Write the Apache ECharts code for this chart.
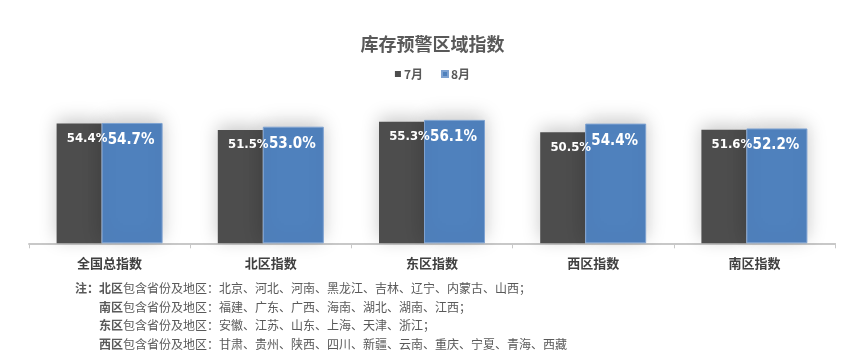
<!DOCTYPE html>
<html><head><meta charset="utf-8">
<script src="https://cdn.jsdelivr.net/npm/echarts@6/dist/echarts.min.js"></script>
<style>html,body{margin:0;padding:0;background:#fff}#c{width:865px;height:361px}</style>
</head><body><div id="c"></div>
<script>
var categories = ['全国总指数', '北区指数', '东区指数', '西区指数', '南区指数'];
var july = [54.4, 51.5, 55.3, 50.5, 51.6];
var august = [54.7, 53.0, 56.1, 54.4, 52.2];
var seriesNames = ['7月', '8月'];
var title = '库存预警区域指数';
var noteRegions = ['北区', '南区', '东区', '西区'];
var noteLists = [
  '北京、河北、河南、黑龙江、吉林、辽宁、内蒙古、山西；',
  '福建、广东、广西、海南、湖北、湖南、江西；',
  '安徽、江苏、山东、上海、天津、浙江；',
  '甘肃、贵州、陕西、四川、新疆、云南、重庆、宁夏、青海、西藏'
];

var CJK = "'Noto Sans CJK SC', 'Microsoft YaHei', sans-serif";
var NARROW = "'DejaVu Sans Condensed', sans-serif";
var chart = echarts.init(document.getElementById('c'));

var noteY = [290, 309, 327, 346];
var graphics = noteRegions.map(function (r, i) {
  var txt = (i === 0 ? '{b|注：}' : '') + '{b|' + r + '}{n|包含省份及地区：' + noteLists[i] + '}';
  return {
    type: 'text', left: i === 0 ? 75 : 99, top: noteY[i] - 8,
    style: {
      text: txt,
      rich: {
        b: {fontFamily: CJK, fontSize: 12, fontWeight: 'bold', fill: '#595959'},
        n: {fontFamily: CJK, fontSize: 12, fill: '#595959'}
      }
    }
  };
});

var shadow = {shadowBlur: 18, shadowColor: 'rgba(0,0,0,0.22)', shadowOffsetY: -4};

chart.setOption({
  animation: false,
  title: {text: title, left: 'center', top: 30,
    textStyle: {fontFamily: CJK, fontSize: 18, fontWeight: 'bold', color: '#595959'}},
  legend: {data: seriesNames, top: 63, left: 'center', itemWidth: 6, itemHeight: 6, itemGap: 18,
    icon: 'rect',
    textStyle: {fontFamily: CJK, fontSize: 12, fontWeight: 'bold', color: '#595959', padding: [0, 0, 0, -2]}},
  grid: {left: 29, right: 30, top: 23.3, bottom: 117.7, containLabel: false},
  xAxis: {type: 'category', data: categories,
    axisLine: {lineStyle: {color: '#c8c8c8', width: 2}},
    axisTick: {show: true, length: 5, lineStyle: {color: '#c8c8c8', width: 1}},
    axisLabel: {fontFamily: CJK, fontSize: 13, fontWeight: 'bold', color: '#404040', margin: 13}},
  yAxis: {type: 'value', min: 0, max: 100, show: false, splitLine: {show: false}},
  graphic: graphics,
  series: [
    {name: seriesNames[0], type: 'bar', data: july, barWidth: 45, barGap: '0%',
      itemStyle: Object.assign({color: '#4d4d4d'}, shadow),
      label: {show: true, position: 'insideTop', distance: 8.5, offset: [8, 0],
        formatter: function (p) { return p.value.toFixed(1) + '%'; },
        fontFamily: NARROW, fontSize: 13, fontWeight: 'bold', color: '#fff'}},
    {name: seriesNames[1], type: 'bar', data: august, barWidth: 61, barGap: '0%',
      itemStyle: Object.assign({color: '#4f81bd', borderColor: '#7ea2d1', borderWidth: 1}, shadow),
      label: {show: true, position: 'insideTop', distance: 9.5, offset: [-1, 0],
        formatter: function (p) { return p.value.toFixed(1) + '%'; },
        fontFamily: NARROW, fontSize: 15, fontWeight: 'bold', color: '#fff'}}
  ]
});
</script></body></html>
